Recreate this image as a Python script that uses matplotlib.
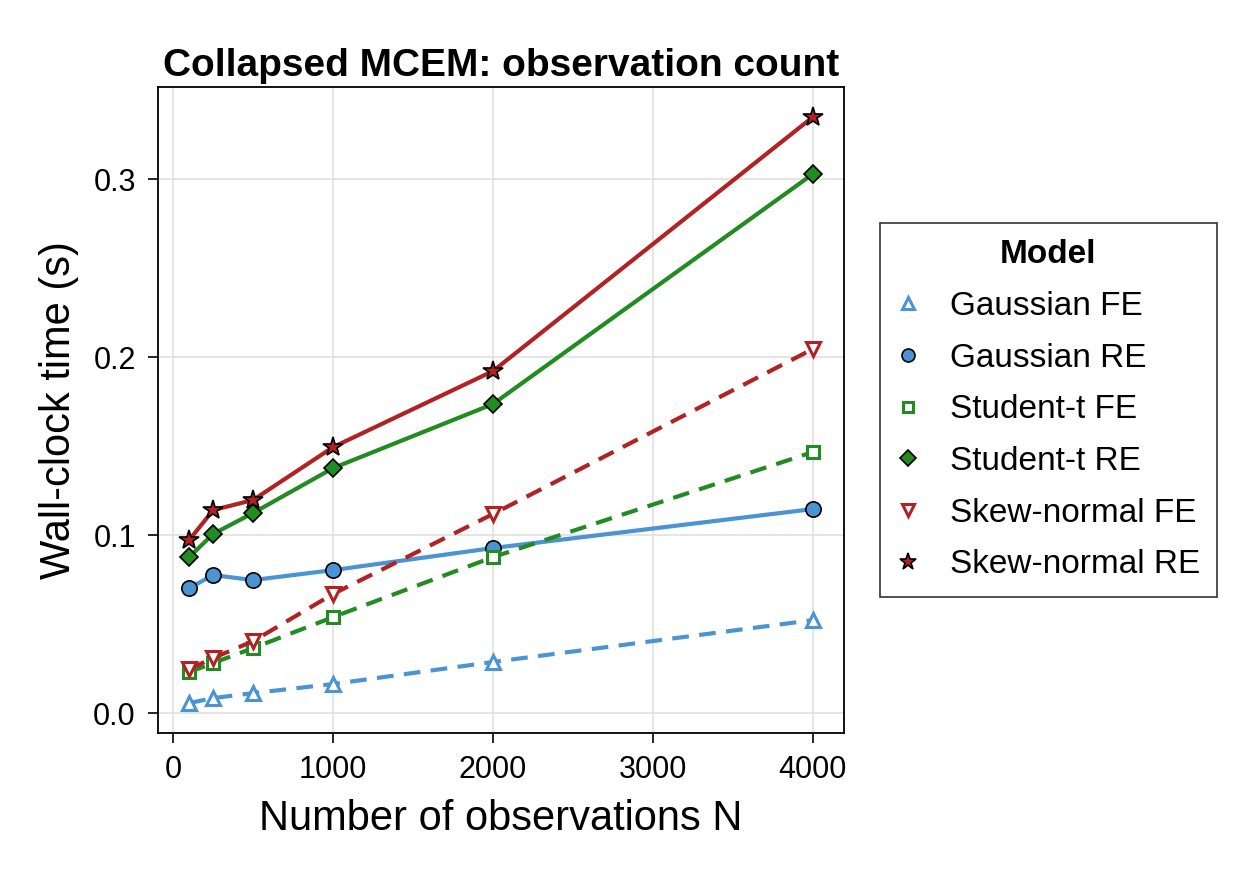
import matplotlib.pyplot as plt

plt.rcParams['font.family'] = ['Liberation Sans', 'DejaVu Sans']

# Data
n_obs = [100, 250, 500, 1000, 2000, 4000]
gauss_fe = [0.0056, 0.0084, 0.0112, 0.0163, 0.0287, 0.0522]
gauss_re = [0.0702, 0.0775, 0.0747, 0.0803, 0.0927, 0.1146]
student_fe = [0.0230, 0.0281, 0.0365, 0.0539, 0.0876, 0.1466]
student_re = [0.0876, 0.1006, 0.1124, 0.1376, 0.1736, 0.3028]
skew_fe = [0.0247, 0.0309, 0.0404, 0.0669, 0.1118, 0.2045]
skew_re = [0.0972, 0.1140, 0.1197, 0.1494, 0.1921, 0.3348]

blue = '#4B94D3'
green = '#228B22'
red = '#B22222'

fig = plt.figure(figsize=(12.5, 8.75), dpi=100)
ax = fig.add_axes([0.1264, 0.1623, 0.5488, 0.7383])

lw = 3
ms = 10
# FE: dashed, open markers; RE: solid, filled with black edge
ax.plot(n_obs, gauss_fe, '--', color=blue, lw=lw, marker='^', ms=ms,
        mfc='white', mec=blue, mew=2.2, label='Gaussian FE', dashes=(4, 2.5))
ax.plot(n_obs, gauss_re, '-', color=blue, lw=lw, marker='o', ms=ms + 1,
        mfc=blue, mec='black', mew=1.2, label='Gaussian RE')
ax.plot(n_obs, student_fe, '--', color=green, lw=lw, marker='s', ms=ms - 1,
        mfc='white', mec=green, mew=2.2, label='Student-t FE', dashes=(4, 2.5))
ax.plot(n_obs, student_re, '-', color=green, lw=lw, marker='D', ms=ms - 0.5,
        mfc=green, mec='black', mew=1.2, label='Student-t RE')
ax.plot(n_obs, skew_fe, '--', color=red, lw=lw, marker='v', ms=ms,
        mfc='white', mec=red, mew=2.2, label='Skew-normal FE', dashes=(4, 2.5))
ax.plot(n_obs, skew_re, '-', color=red, lw=lw, marker='*', ms=ms + 5,
        mfc=red, mec='black', mew=1.2, label='Skew-normal RE')

ax.set_xlim(-95, 4195)
ax.set_ylim(-0.0112, 0.3517)
ax.set_xticks([0, 1000, 2000, 3000, 4000])
ax.set_yticks([0.0, 0.1, 0.2, 0.3])
ax.set_yticklabels(['0.0', '0.1', '0.2', '0.3'])
ax.grid(True, color='#e0e0e0', lw=1.2)
ax.set_axisbelow(True)
ax.tick_params(labelsize=22, length=7, width=1.2, pad=9)
for s in ax.spines.values():
    s.set_linewidth(1.3)

ax.set_title('Collapsed MCEM: observation count', fontsize=28, fontweight='bold', pad=8)
ax.set_xlabel('Number of observations N', fontsize=30, labelpad=10)
ax.set_ylabel('Wall-clock time (s)', fontsize=30, labelpad=10)

leg = ax.legend(title='Model', loc='center left', bbox_to_anchor=(1.0525, 0.5),
                borderaxespad=0, fontsize=24,
                title_fontproperties={'weight': 'bold', 'size': 24},
                frameon=True, fancybox=False, edgecolor='black',
                handlelength=0.7, handletextpad=0.9, labelspacing=0.62,
                borderpad=0.5, markerscale=0.85)
leg.get_frame().set_linewidth(1.2)
for h in leg.get_lines():
    h.set_linestyle('none')

fig.savefig('out.png', dpi=100)
